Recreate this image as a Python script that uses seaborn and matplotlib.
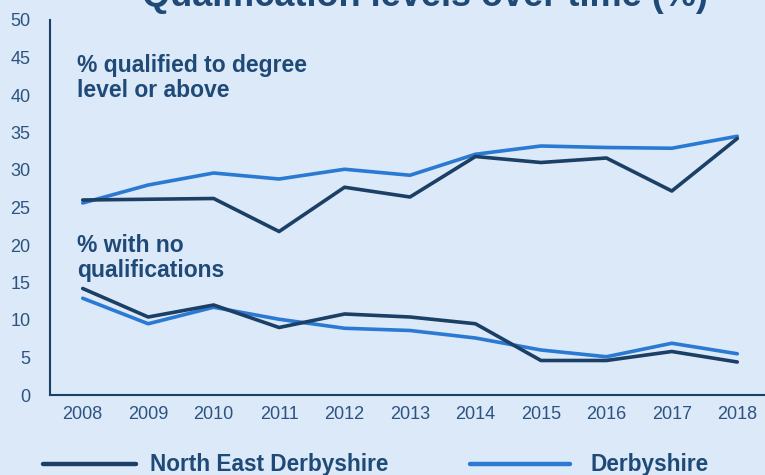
import matplotlib
matplotlib.use("Agg")
import matplotlib.pyplot as plt
import seaborn as sns
import pandas as pd
from matplotlib.lines import Line2D

years = [2008, 2009, 2010, 2011, 2012, 2013, 2014, 2015, 2016, 2017, 2018]

# % qualified to degree level or above
degree_ned = [26.0, 26.1, 26.2, 21.8, 27.7, 26.4, 31.8, 31.0, 31.6, 27.2, 34.2]
degree_derbyshire = [25.6, 28.0, 29.6, 28.8, 30.1, 29.3, 32.1, 33.2, 33.0, 32.9, 34.5]

# % with no qualifications
noqual_ned = [14.2, 10.4, 12.0, 9.0, 10.8, 10.4, 9.5, 4.6, 4.6, 5.8, 4.4]
noqual_derbyshire = [12.9, 9.5, 11.7, 10.1, 8.9, 8.6, 7.6, 6.0, 5.1, 6.9, 5.5]

areas = ["North East Derbyshire", "Derbyshire"]
title = "Qualification levels over time (%)"

BG = "#dbe9f8"
NAVY = "#1c3f66"
BLUE = "#2a7ad4"
TEXT = "#2d5380"
LABEL = "#1f4a78"

rows = []
for measure, ned, dby in [("degree", degree_ned, degree_derbyshire),
                          ("noqual", noqual_ned, noqual_derbyshire)]:
    for y, a, b in zip(years, ned, dby):
        rows.append({"year": y, "value": a, "area": areas[0], "measure": measure})
        rows.append({"year": y, "value": b, "area": areas[1], "measure": measure})
df = pd.DataFrame(rows)

sns.set_theme(style="white")
plt.rcParams["font.family"] = ["Liberation Sans", "DejaVu Sans"]

W, H = 765, 475
fig = plt.figure(figsize=(W / 100, H / 100), dpi=100, facecolor=BG)
ax = fig.add_axes([50 / W, 1 - 395 / H, 720 / W, 375 / H])
ax.set_facecolor(BG)

palette = {areas[0]: NAVY, areas[1]: BLUE}
for measure in ["degree", "noqual"]:
    sub = df[df["measure"] == measure]
    sns.lineplot(data=sub, x="year", y="value", hue="area", hue_order=areas[::-1],
                 palette=palette, linewidth=2.6, ax=ax, legend=False,
                 estimator=None, sort=False)

ax.set_xlim(2007.5, 2018.5)
ax.set_ylim(0, 50)
ax.set_xticks(years)
ax.set_xticklabels([str(y) for y in years])
ax.set_yticks(range(0, 51, 5))
ax.tick_params(axis="both", colors=TEXT, labelsize=13, length=0)
ax.tick_params(axis="x", pad=8)
ax.tick_params(axis="y", pad=14)
ax.set_xlabel("")
ax.set_ylabel("")

for side in ["top", "right"]:
    ax.spines[side].set_visible(False)
for side in ["left", "bottom"]:
    ax.spines[side].set_color(NAVY)
    ax.spines[side].set_linewidth(1.5)

ax.text(2007.92, 45.5, "% qualified to degree\nlevel or above", color=LABEL,
        fontsize=16.5, fontweight="bold", va="top", ha="left", linespacing=1.15)
ax.text(2007.92, 21.5, "% with no\nqualifications", color=LABEL,
        fontsize=16.5, fontweight="bold", va="top", ha="left", linespacing=1.15)

fig.text(425 / W, 1 - 6 / H, title, ha="center", va="baseline",
         color=LABEL, fontsize=26, fontweight="bold")

# legend row along the bottom edge
ly = 1 - 464 / H
fig.add_artist(Line2D([43 / W, 136 / W], [ly, ly], color=NAVY, linewidth=3.2))
fig.text(150 / W, ly, areas[0], color=LABEL, fontsize=16.3, fontweight="bold",
         va="center", ha="left")
fig.add_artist(Line2D([470 / W, 570 / W], [ly, ly], color=BLUE, linewidth=3.2))
fig.text(590 / W, ly, areas[1], color=LABEL, fontsize=16.3, fontweight="bold",
         va="center", ha="left")

fig.savefig("out.png", dpi=100, facecolor=BG)
